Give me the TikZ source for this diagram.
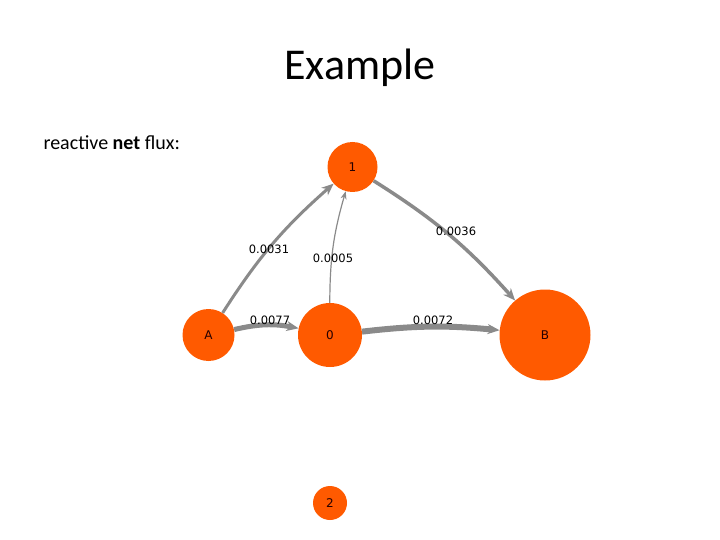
\documentclass[tikz,border=0pt]{standalone}
\usepackage{fontspec}
\setmainfont{Carlito}
\newfontfamily\lblfont{DejaVu Sans}
\usetikzlibrary{arrows.meta}
\definecolor{nodeor}{HTML}{FF5A00}
\definecolor{edgegr}{HTML}{8A8A8A}
\begin{document}
\begin{tikzpicture}[x=1pt,y=-1pt,
  state/.style={circle,fill=nodeor,draw=none,inner sep=0pt,minimum size=#1,font=\lblfont\fontsize{12}{14}\selectfont,text=black!85!red},
  flux/.style={draw=edgegr,line width=#1,-{Stealth[length=12pt,width=10pt]}},
  flab/.style={font=\lblfont\fontsize{11.5}{13}\selectfont,text=black,inner sep=1pt}]
\useasboundingbox (0,0) rectangle (720,540);
\node at (360,68) {\fontsize{44}{52}\selectfont Example};
\node[anchor=west] at (40,143) {\fontsize{20}{24}\selectfont reactive \textbf{net} flux:};
\node[state=50pt] (n1) at (352.5,167) {1};
\node[state=52pt] (nA) at (208.5,335) {A};
\node[state=64pt] (n0) at (330,335) {0};
\node[state=91pt] (nB) at (545,335) {B};
\node[state=34pt] (n2) at (330,503) {2};
\draw[flux=3pt] (nA) to[bend left=8] (n1);
\draw[flux=1.2pt,-{Stealth[length=8pt,width=6pt]}] (n0) to[bend left=8] (n1);
\draw[flux=3.5pt] (n1) to[bend left=8] (nB);
\draw[flux=5pt] (nA) to[bend left=12] (n0);
\draw[flux=6pt] (n0) to[bend left=6] (nB);
\node[flab] (l1) at (269,249) {0.0031};
\node[flab] (l2) at (333,258) {0.0005};
\node[flab] (l3) at (456,231) {0.0036};
\node[flab] (l4) at (270,320) {0.0077};
\node[flab] (l5) at (433,320) {0.0072};
\end{tikzpicture}
\end{document}
